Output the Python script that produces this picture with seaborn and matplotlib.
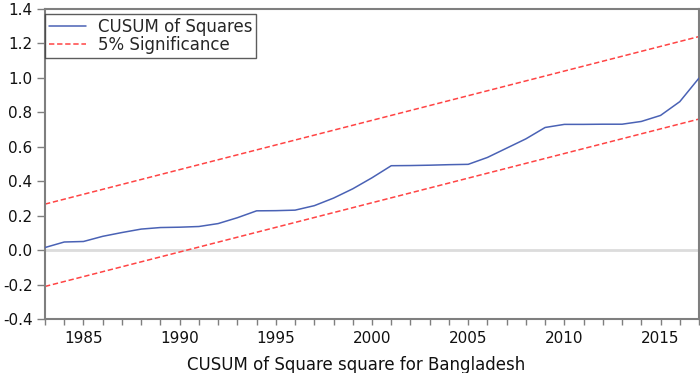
import matplotlib
matplotlib.use("Agg")
import matplotlib.pyplot as plt
import matplotlib.ticker as mticker
import pandas as pd
import seaborn as sns

# CUSUM of squares
years = list(range(1983, 2018))
cusum_sq = [0.015, 0.047, 0.050, 0.080, 0.102, 0.122, 0.131, 0.133, 0.137, 0.154,
            0.188, 0.228, 0.229, 0.232, 0.258, 0.302, 0.356, 0.420, 0.490, 0.491,
            0.493, 0.496, 0.498, 0.538, 0.592, 0.646, 0.712, 0.730, 0.730, 0.731,
            0.731, 0.747, 0.782, 0.862, 0.999]

# 5% significance bounds (straight lines, endpoints)
bound_years = [1983, 2017]
upper_bound = [0.267, 1.240]
lower_bound = [-0.211, 0.761]

sns.set_style("white")
plt.rcParams["font.family"] = ["DejaVu Sans"]
plt.rcParams["axes.unicode_minus"] = False

df = pd.DataFrame({"year": years, "value": cusum_sq})
df_up = pd.DataFrame({"year": bound_years, "value": upper_bound})
df_lo = pd.DataFrame({"year": bound_years, "value": lower_bound})

fig = plt.figure(figsize=(7, 3.73), dpi=100)
ax = fig.add_axes([0.0643, 0.1448, 0.9343, 0.8311])

ax.axhline(0, color="#dcdcdc", lw=2, zorder=1)
sns.lineplot(data=df, x="year", y="value", ax=ax, color="#4a62b5", lw=1.1,
             label="CUSUM of Squares", zorder=3)
sns.lineplot(data=df_up, x="year", y="value", ax=ax, color="#ff4444", lw=1.1,
             linestyle=(0, (3.5, 1.8)), label="5% Significance", zorder=2)
sns.lineplot(data=df_lo, x="year", y="value", ax=ax, color="#ff4444", lw=1.1,
             linestyle=(0, (3.5, 1.8)), zorder=2)

ax.set_xlim(1983, 2017)
ax.set_ylim(-0.4, 1.4)
ax.set_xlabel("")
ax.set_ylabel("")
ax.xaxis.set_major_locator(mticker.MultipleLocator(5))
ax.xaxis.set_minor_locator(mticker.MultipleLocator(1))
ax.yaxis.set_major_locator(mticker.MultipleLocator(0.2))
ax.yaxis.set_major_formatter(mticker.FormatStrFormatter("%.1f"))

for s in ax.spines.values():
    s.set_color("#7f7f7f")
    s.set_linewidth(1.5)
ax.tick_params(axis="both", which="both", direction="out", width=1,
               color="#7f7f7f", labelsize=11, labelcolor="#111111")
ax.tick_params(axis="x", which="both", bottom=True, length=4, pad=5)
ax.tick_params(axis="y", left=True, length=6, pad=3)

handles, labels = ax.get_legend_handles_labels()
leg = ax.legend(handles[:2], labels[:2], loc="upper left", bbox_to_anchor=(0, 0.985),
                fontsize=12, frameon=True, fancybox=False, borderaxespad=0,
                handlelength=2.2, handletextpad=0.7, borderpad=0.25, labelspacing=0.02)
leg.get_frame().set_edgecolor("#333333")
leg.get_frame().set_linewidth(1.0)

fig.text(0.509, 0.008, "CUSUM of Square square for Bangladesh", ha="center",
         va="baseline", fontsize=12, color="#111111")

fig.savefig("out.png", dpi=100)
